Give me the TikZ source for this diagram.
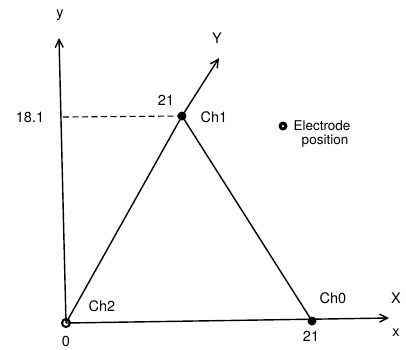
\documentclass[tikz,border=0pt]{standalone}
\usepackage{fontspec}
\setmainfont{TeX Gyre Heros}
\usetikzlibrary{arrows.meta}
\begin{document}
\begin{tikzpicture}[x=1pt,y=-1pt,
  lbl/.style={font=\fontsize{14.5}{16}\selectfont, inner sep=0pt},
  elec/.style={circle, fill=black, minimum size=9pt, inner sep=0pt},
  axis/.style={line width=1.4pt, -{Straight Barb[length=8pt,width=8pt,line width=1.4pt]}},
  edge/.style={line width=1.4pt}]
\useasboundingbox (0,0) rectangle (406,349);
% electrodes
\node[circle, draw=black, line width=2pt, fill=white, minimum size=8pt, inner sep=0pt] (ch2) at (66,323) {};
\node[elec] (ch1) at (182,116) {};
\node[elec] (ch0) at (312,321) {};
% axis end points
\coordinate (ytop) at (59,38);
\coordinate (xend) at (389,318);
\coordinate (Yend) at (219,58);
\coordinate (dashl) at (63,117);
% axes
\draw[axis] (ch2.center) -- (ytop);
\draw[axis] (ch2.center) -- (xend);
\draw[axis] (ch1.center) -- (Yend);
% triangle
\draw[edge] (ch2.center) -- (ch1.center);
\draw[edge] (ch1.center) -- (ch0.center);
% dashed projection
\draw[line width=1.1pt, dash pattern=on 6pt off 3.5pt] (dashl) -- (ch1.center);
% labels
\node[lbl] (ly) at (60,15) {y};
\node[lbl] (lY) at (217,38) {Y};
\node[lbl] (l181) at (30,117) {18.1};
\node[lbl] (l21a) at (166,100) {21};
\node[lbl] (lch1) at (214,117) {Ch1};
\node[lbl] (lch2) at (102,306) {Ch2};
\node[lbl] (lch0) at (333,298) {Ch0};
\node[lbl] (lX) at (396,298) {X};
\node[lbl] (lx) at (396,333) {x};
\node[lbl] (l0) at (66,341) {0};
\node[lbl] (l21b) at (311,336) {21};
% legend
\node[circle, fill=black, minimum size=9pt, inner sep=0pt] (leg) at (283,126) {};
\node[circle, fill=white, minimum size=2.5pt, inner sep=0pt] (legc) at (283,126) {};
\node[lbl, font=\fontsize{13.5}{15}\selectfont] (legt1) at (322,126) {Electrode};
\node[lbl, font=\fontsize{13.5}{15}\selectfont] (legt2) at (325,141) {position};
\end{tikzpicture}
\end{document}
